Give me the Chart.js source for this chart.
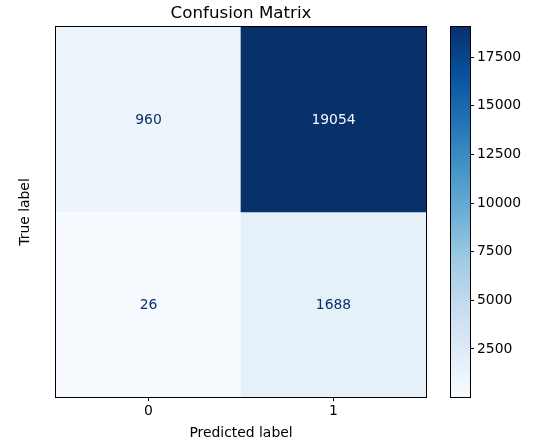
<!DOCTYPE html>
<html>
<head>
<meta charset="utf-8">
<script src="https://cdn.jsdelivr.net/npm/chart.js@4"></script>
<style>
  html, body { margin: 0; padding: 0; background: #fff; }
  #wrap { position: relative; width: 537px; height: 445px; }
  #main { position: absolute; left: 0; top: 0; }
  #bar { position: absolute; left: 420px; top: 0; }
</style>
</head>
<body>
<div id="wrap">
  <canvas id="main" width="482" height="445"></canvas>
  <canvas id="bar" width="117" height="445"></canvas>
</div>
<script>
// confusion matrix values, one array per true-label row
const predictedLabels = ["0", "1"];
const trueLabels = ["0", "1"];
const row0 = [960, 19054];
const row1 = [26, 1688];
const matrix = [row0, row1];
const colorbarTicks = [2500, 5000, 7500, 10000, 12500, 15000, 17500];

// matplotlib "Blues" anchor colours, evenly spaced 0..1
const blues = ["#f7fbff", "#deebf7", "#c6dbef", "#9ecae1", "#6baed6", "#4292c6", "#2171b5", "#08519c", "#08306b"];

const FONT = "'DejaVu Sans', sans-serif";
const allVals = matrix.flat();
const vMin = Math.min(...allVals);
const vMax = Math.max(...allVals);

function hexToRgb(h) {
  const n = parseInt(h.slice(1), 16);
  return [(n >> 16) & 255, (n >> 8) & 255, n & 255];
}

function cmap(t) {
  t = Math.min(1, Math.max(0, t));
  const pos = t * (blues.length - 1);
  const i = Math.min(Math.floor(pos), blues.length - 2);
  const f = pos - i;
  const a = hexToRgb(blues[i]), b = hexToRgb(blues[i + 1]);
  const c = a.map((v, k) => Math.round(v + (b[k] - v) * f));
  return `rgb(${c[0]},${c[1]},${c[2]})`;
}

const norm = (v) => (v - vMin) / (vMax - vMin);

// draws the frame around the plot area
const frame = {
  id: "frame",
  afterDraw(chart) {
    const { ctx, chartArea: a } = chart;
    ctx.save();
    ctx.strokeStyle = "#000";
    ctx.lineWidth = 1;
    ctx.strokeRect(Math.round(a.left) - 0.5, Math.round(a.top) - 0.5, Math.round(a.right - a.left) + 1, Math.round(a.bottom - a.top) + 1);
    ctx.restore();
  },
};

// numbers written in the middle of each cell
const cellText = {
  id: "cellText",
  afterDatasetsDraw(chart) {
    const { ctx } = chart;
    const xs = chart.scales.x, ys = chart.scales.y;
    const thresh = (vMin + vMax) / 2;
    ctx.save();
    ctx.font = `13.9px ${FONT}`;
    ctx.textAlign = "center";
    ctx.textBaseline = "middle";
    matrix.forEach((row, r) => {
      row.forEach((v, c) => {
        ctx.fillStyle = v > thresh ? blues[0] : blues[blues.length - 1];
        ctx.fillText(String(v), xs.getPixelForValue(c), ys.getPixelForValue(r) + 1);
      });
    });
    ctx.restore();
  },
};

const tickGrid = { display: true, drawOnChartArea: false, drawTicks: true, tickLength: 4, color: "#000", lineWidth: 1 };

new Chart(document.getElementById("main"), {
  type: "bar",
  data: {
    labels: predictedLabels,
    datasets: matrix.map((row, r) => ({
      label: "row " + trueLabels[r],
      data: row.map(() => [r - 0.5, r + 0.5]),
      backgroundColor: row.map((v) => cmap(norm(v))),
      borderWidth: 0,
      barPercentage: 1,
      categoryPercentage: 1,
      grouped: false,
    })),
  },
  options: {
    responsive: false,
    animation: false,
    events: [],
    layout: { padding: { left: 0, right: 0, top: 0, bottom: 0 } },
    plugins: {
      legend: { display: false },
      tooltip: { enabled: false },
      title: {
        display: true,
        text: "Confusion Matrix",
        color: "#000",
        font: { family: FONT, size: 16.7, weight: "normal" },
        padding: { top: 4, bottom: 3 },
      },
    },
    scales: {
      x: {
        type: "category",
        offset: true,
        grid: { ...tickGrid, offset: false },
        border: { display: false },
        ticks: { color: "#000", font: { family: FONT, size: 13.9 }, padding: 2, maxRotation: 0 },
        title: { display: true, text: "Predicted label", color: "#000", font: { family: FONT, size: 13.9 }, padding: { top: 0, bottom: 3 } },
        afterFit: (s) => { s.height = 48; },
      },
      y: {
        type: "linear",
        min: -0.5,
        max: 1.5,
        reverse: true,
        grid: tickGrid,
        border: { display: false },
        ticks: { stepSize: 1, includeBounds: false, color: "#000", font: { family: FONT, size: 13.9 }, padding: 3, callback: (v) => trueLabels[v] },
        title: { display: true, text: "True label", color: "#000", font: { family: FONT, size: 13.9 }, padding: { top: 17, bottom: 0 } },
        afterFit: (s) => { s.width = 56; },
      },
      // empty right-hand gutter so the title centres over the matrix
      gutter: {
        type: "linear",
        position: "right",
        display: true,
        grid: { display: false },
        border: { display: false },
        ticks: { display: false },
        afterFit: (s) => { s.width = 56; },
      },
    },
  },
  plugins: [cellText, frame],
});

new Chart(document.getElementById("bar"), {
  type: "bar",
  data: {
    labels: [""],
    datasets: [{
      data: [[vMin, vMax]],
      borderWidth: 0,
      barPercentage: 1,
      categoryPercentage: 1,
      backgroundColor: (c) => {
        const chart = c.chart;
        if (!chart.chartArea) return blues[0];
        const ys = chart.scales.y;
        const g = chart.ctx.createLinearGradient(0, ys.getPixelForValue(vMin), 0, ys.getPixelForValue(vMax));
        blues.forEach((col, i) => g.addColorStop(i / (blues.length - 1), col));
        return g;
      },
    }],
  },
  options: {
    responsive: false,
    animation: false,
    events: [],
    layout: { padding: { left: 31, right: 0, top: 27, bottom: 48 } },
    plugins: { legend: { display: false }, tooltip: { enabled: false } },
    scales: {
      x: { display: false },
      y: {
        type: "linear",
        position: "right",
        min: vMin,
        max: vMax,
        grid: tickGrid,
        border: { display: false },
        afterBuildTicks: (s) => { s.ticks = colorbarTicks.map((v) => ({ value: v })); },
        ticks: { color: "#000", font: { family: FONT, size: 13.9 }, padding: 3, callback: (v) => String(v) },
        afterFit: (s) => { s.width = 67; },
      },
    },
  },
  plugins: [frame],
});
</script>
</body>
</html>
